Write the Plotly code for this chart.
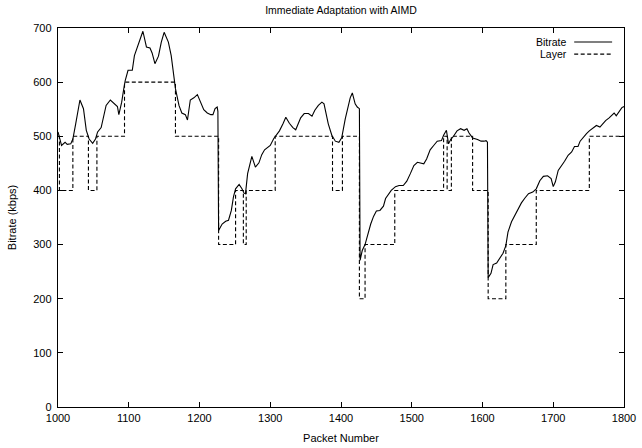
import plotly.graph_objects as go

# Bitrate trace (packet number, kbps)
packets = [
    1000, 1005, 1010, 1013, 1018, 1021, 1025, 1031, 1036, 1040,
    1044, 1049, 1053, 1056, 1061, 1064, 1068, 1074, 1079, 1084,
    1086, 1090, 1093, 1095, 1099, 1105, 1108, 1112, 1115, 1120,
    1125, 1130, 1133, 1137, 1142, 1146, 1150, 1156, 1160, 1163,
    1166, 1171, 1175, 1180, 1183, 1187, 1192, 1197, 1201, 1206,
    1211, 1216, 1219, 1222, 1225, 1226, 1227, 1232, 1237, 1241,
    1245, 1248, 1251, 1256, 1260, 1263, 1265, 1268, 1274, 1279,
    1284, 1288, 1292, 1297, 1300, 1305, 1309, 1313, 1318, 1322,
    1327, 1332, 1336, 1340, 1343, 1348, 1354, 1359, 1363, 1368,
    1373, 1376, 1379, 1382, 1387, 1392, 1397, 1401, 1406, 1409,
    1413, 1416, 1420, 1423, 1426, 1427, 1430, 1434, 1438, 1442,
    1446, 1450, 1455, 1460, 1463, 1467, 1471, 1477, 1482, 1488,
    1493, 1498, 1503, 1508, 1513, 1517, 1521, 1526, 1531, 1536,
    1542, 1545, 1549, 1552, 1555, 1559, 1564, 1569, 1574, 1578,
    1581, 1586, 1593, 1598, 1602, 1605, 1607, 1608, 1612, 1615,
    1620, 1624, 1629, 1633, 1636, 1641, 1646, 1650, 1655, 1660,
    1665, 1671, 1676, 1681, 1686, 1692, 1697, 1700, 1703, 1707,
    1712, 1716, 1721, 1726, 1730, 1735, 1738, 1742, 1747, 1751,
    1757, 1761, 1766, 1770, 1774, 1779, 1783, 1786, 1789, 1793,
    1797, 1800,
]
bitrate = [
    508, 483, 489, 485, 486, 495, 523, 567, 551, 511,
    495, 487, 495, 508, 516, 532, 557, 567, 561, 555,
    540, 563, 588, 603, 622, 622, 649, 665, 674, 694,
    665, 663, 654, 634, 648, 674, 692, 674, 649, 615,
    588, 557, 543, 540, 530, 567, 571, 577, 563, 549,
    543, 540, 540, 551, 554, 546, 326, 338, 343, 345,
    363, 388, 403, 411, 403, 395, 394, 431, 463, 443,
    451, 466, 475, 480, 483, 496, 502, 510, 523, 535,
    524, 516, 512, 524, 534, 542, 542, 537, 548, 557,
    563, 560, 538, 523, 502, 491, 489, 497, 532, 549,
    571, 580, 560, 554, 551, 271, 289, 300, 320, 338,
    352, 362, 363, 371, 385, 393, 400, 407, 409, 409,
    417, 431, 446, 452, 451, 449, 458, 475, 483, 491,
    492, 502, 511, 486, 494, 500, 510, 514, 511, 514,
    506, 497, 494, 491, 491, 492, 489, 239, 247, 263,
    266, 274, 284, 298, 323, 342, 354, 363, 377, 386,
    394, 397, 403, 418, 426, 427, 422, 407, 416, 437,
    446, 454, 465, 471, 481, 481, 491, 498, 505, 510,
    517, 520, 517, 523, 529, 534, 540, 543, 538, 545,
    553, 555,
]

# Layer step function (change points)
layer_packets = [1000, 1002, 1021, 1043, 1055, 1094, 1166, 1227, 1251, 1262,
                 1266, 1307, 1388, 1402, 1426, 1434, 1476, 1545, 1550, 1556,
                 1586, 1608, 1633, 1676, 1751, 1800]
layer_values = [500, 400, 500, 400, 500, 600, 500, 300, 400, 300,
                400, 500, 400, 500, 200, 300, 400, 500, 400, 500,
                400, 200, 300, 400, 500, 500]

x_ticks = [1000, 1100, 1200, 1300, 1400, 1500, 1600, 1700, 1800]
y_ticks = [0, 100, 200, 300, 400, 500, 600, 700]

FONT = "Liberation Sans, Arial, Helvetica, sans-serif"
DASH = "4px,2.5px"

fig = go.Figure()
fig.add_trace(go.Scatter(x=packets, y=bitrate, mode="lines", name="Bitrate",
                         line=dict(color="black", width=1.1)))
fig.add_trace(go.Scatter(x=layer_packets, y=layer_values, mode="lines", name="Layer",
                         line=dict(color="black", width=1.1, dash=DASH, shape="hv")))

axis_common = dict(showline=True, linecolor="black", linewidth=1.2, mirror="ticks",
                   ticks="inside", ticklen=5, tickcolor="black", tickwidth=1,
                   showgrid=False, zeroline=False, automargin=False,
                   tickfont=dict(family=FONT, size=11, color="black"))

fig.update_layout(
    width=642, height=448,
    margin=dict(l=58, r=18, t=28, b=41),
    paper_bgcolor="white", plot_bgcolor="white",
    showlegend=False,
    font=dict(family=FONT, size=11, color="black"),
    title=dict(text="Immediate Adaptation with AIMD", x=(58 + 283) / 642, xanchor="center",
               y=1 - 10 / 448, yanchor="middle", font=dict(family=FONT, size=10.5, color="black")),
    xaxis=dict(range=[1000, 1800], tickvals=x_ticks, ticklabelstandoff=1,
               title=dict(text="Packet Number", standoff=10, font=dict(family=FONT, size=11)),
               **axis_common),
    yaxis=dict(range=[0, 700], tickvals=y_ticks, ticklabelstandoff=3,
               title=dict(text="Bitrate (kbps)", standoff=14, font=dict(family=FONT, size=11)),
               **axis_common),
)

# gnuplot-style key (text then sample) in the top right corner
key = [("Bitrate", "solid", 0.963), ("Layer", DASH, 0.931)]
for label, dash, yy in key:
    fig.add_annotation(text=label, xref="paper", yref="paper", x=0.903, y=yy,
                       xanchor="right", yanchor="middle", showarrow=False,
                       font=dict(family=FONT, size=10.5, color="black"))
    fig.add_shape(type="line", xref="paper", yref="paper", x0=0.912, x1=0.979, y0=yy, y1=yy,
                  line=dict(color="black", width=1.1, dash=dash))

fig.write_html(
    "out.html",
    config={"displayModeBar": False, "staticPlot": True},
    post_script="document.body.style.margin='0';document.body.style.overflow='hidden';"
                "document.documentElement.style.overflow='hidden';",
)
